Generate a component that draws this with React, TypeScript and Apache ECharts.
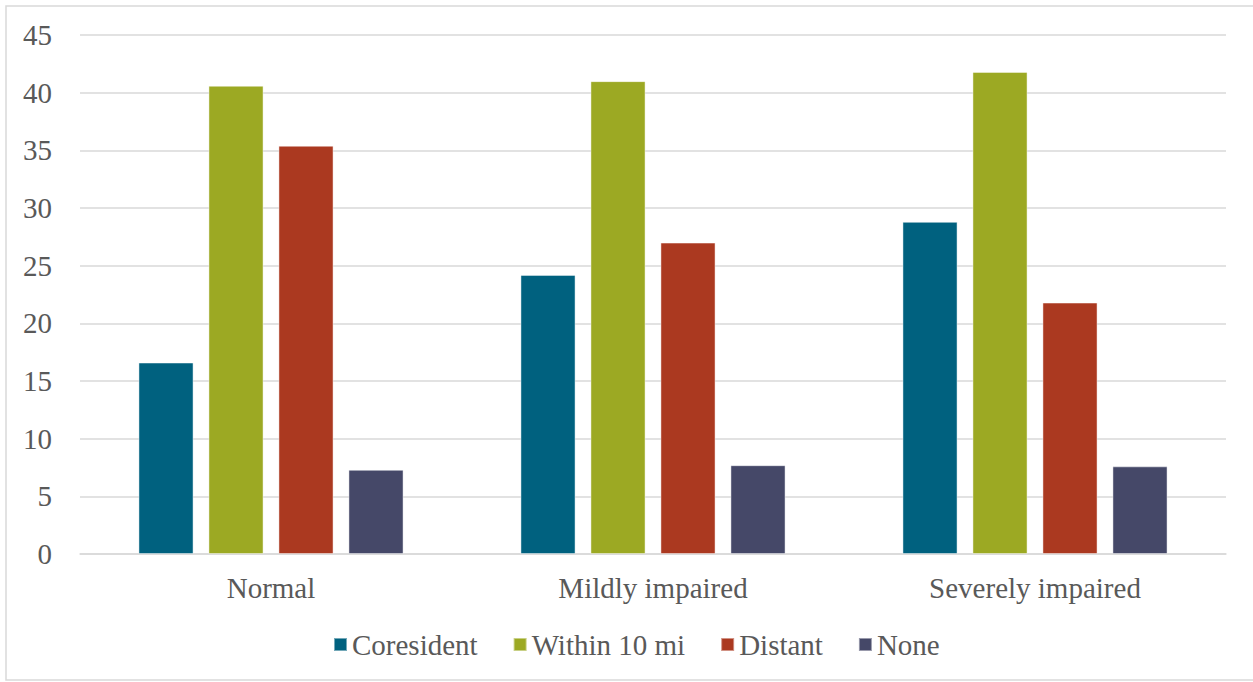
import React, { useEffect, useRef } from "react";
import * as echarts from "echarts";

const categories = ["Normal", "Mildly impaired", "Severely impaired"];
const seriesNames = ["Coresident", "Within 10 mi", "Distant", "None"];
const coresident = [16.6, 24.2, 28.8];
const within10 = [40.6, 41.0, 41.8];
const distant = [35.4, 27.0, 21.8];
const none = [7.3, 7.7, 7.6];
const colors = ["#00617f", "#9ca923", "#ab3920", "#454868"];

const FONT = "'Liberation Serif', 'Times New Roman', serif";

export default function App() {
  const ref = useRef<HTMLDivElement>(null);
  useEffect(() => {
    const chart = echarts.init(ref.current!, null, { renderer: "svg" });
    const values = [coresident, within10, distant, none];
    chart.setOption({
      animation: false,
      textStyle: { fontFamily: FONT },
      graphic: [
        {
          type: "rect",
          shape: { x: 6, y: 6, width: 1260, height: 674 },
          style: { fill: "none", stroke: "#d9d9d9", lineWidth: 1.5 },
          silent: true,
        },
      ],
      grid: { left: 80, right: 27, top: 35, bottom: 128 },
      legend: {
        data: seriesNames,
        bottom: 18,
        left: 328,
        itemWidth: 13,
        itemHeight: 13,
        itemGap: 35,
        icon: "rect",
        textStyle: { fontSize: 29, color: "#595959", fontFamily: FONT, padding: [0, 0, 0, 0] },
      },
      xAxis: {
        type: "category",
        data: categories,
        axisLine: { lineStyle: { color: "#d9d9d9", width: 1.5 } },
        axisTick: { show: false },
        axisLabel: { fontSize: 29, color: "#595959", margin: 19, fontFamily: FONT },
      },
      yAxis: {
        type: "value",
        min: 0,
        max: 45,
        interval: 5,
        axisLine: { show: false },
        axisTick: { show: false },
        axisLabel: { fontSize: 29, color: "#595959", margin: 28, fontFamily: FONT },
        splitLine: { lineStyle: { color: "#d9d9d9", width: 1.5 } },
      },
      series: seriesNames.map((name, i) => ({
        name,
        type: "bar",
        data: values[i],
        barGap: "27%",
        barCategoryGap: "30.6%",
        itemStyle: { color: colors[i], borderColor: "rgba(255,255,255,0.45)", borderWidth: 1 },
      })),
    });
    return () => chart.dispose();
  }, []);
  return (
    <div
      ref={ref}
      style={{ position: "fixed", left: 0, top: 0, width: 1253, height: 682, background: "#fff" }}
    />
  );
}
